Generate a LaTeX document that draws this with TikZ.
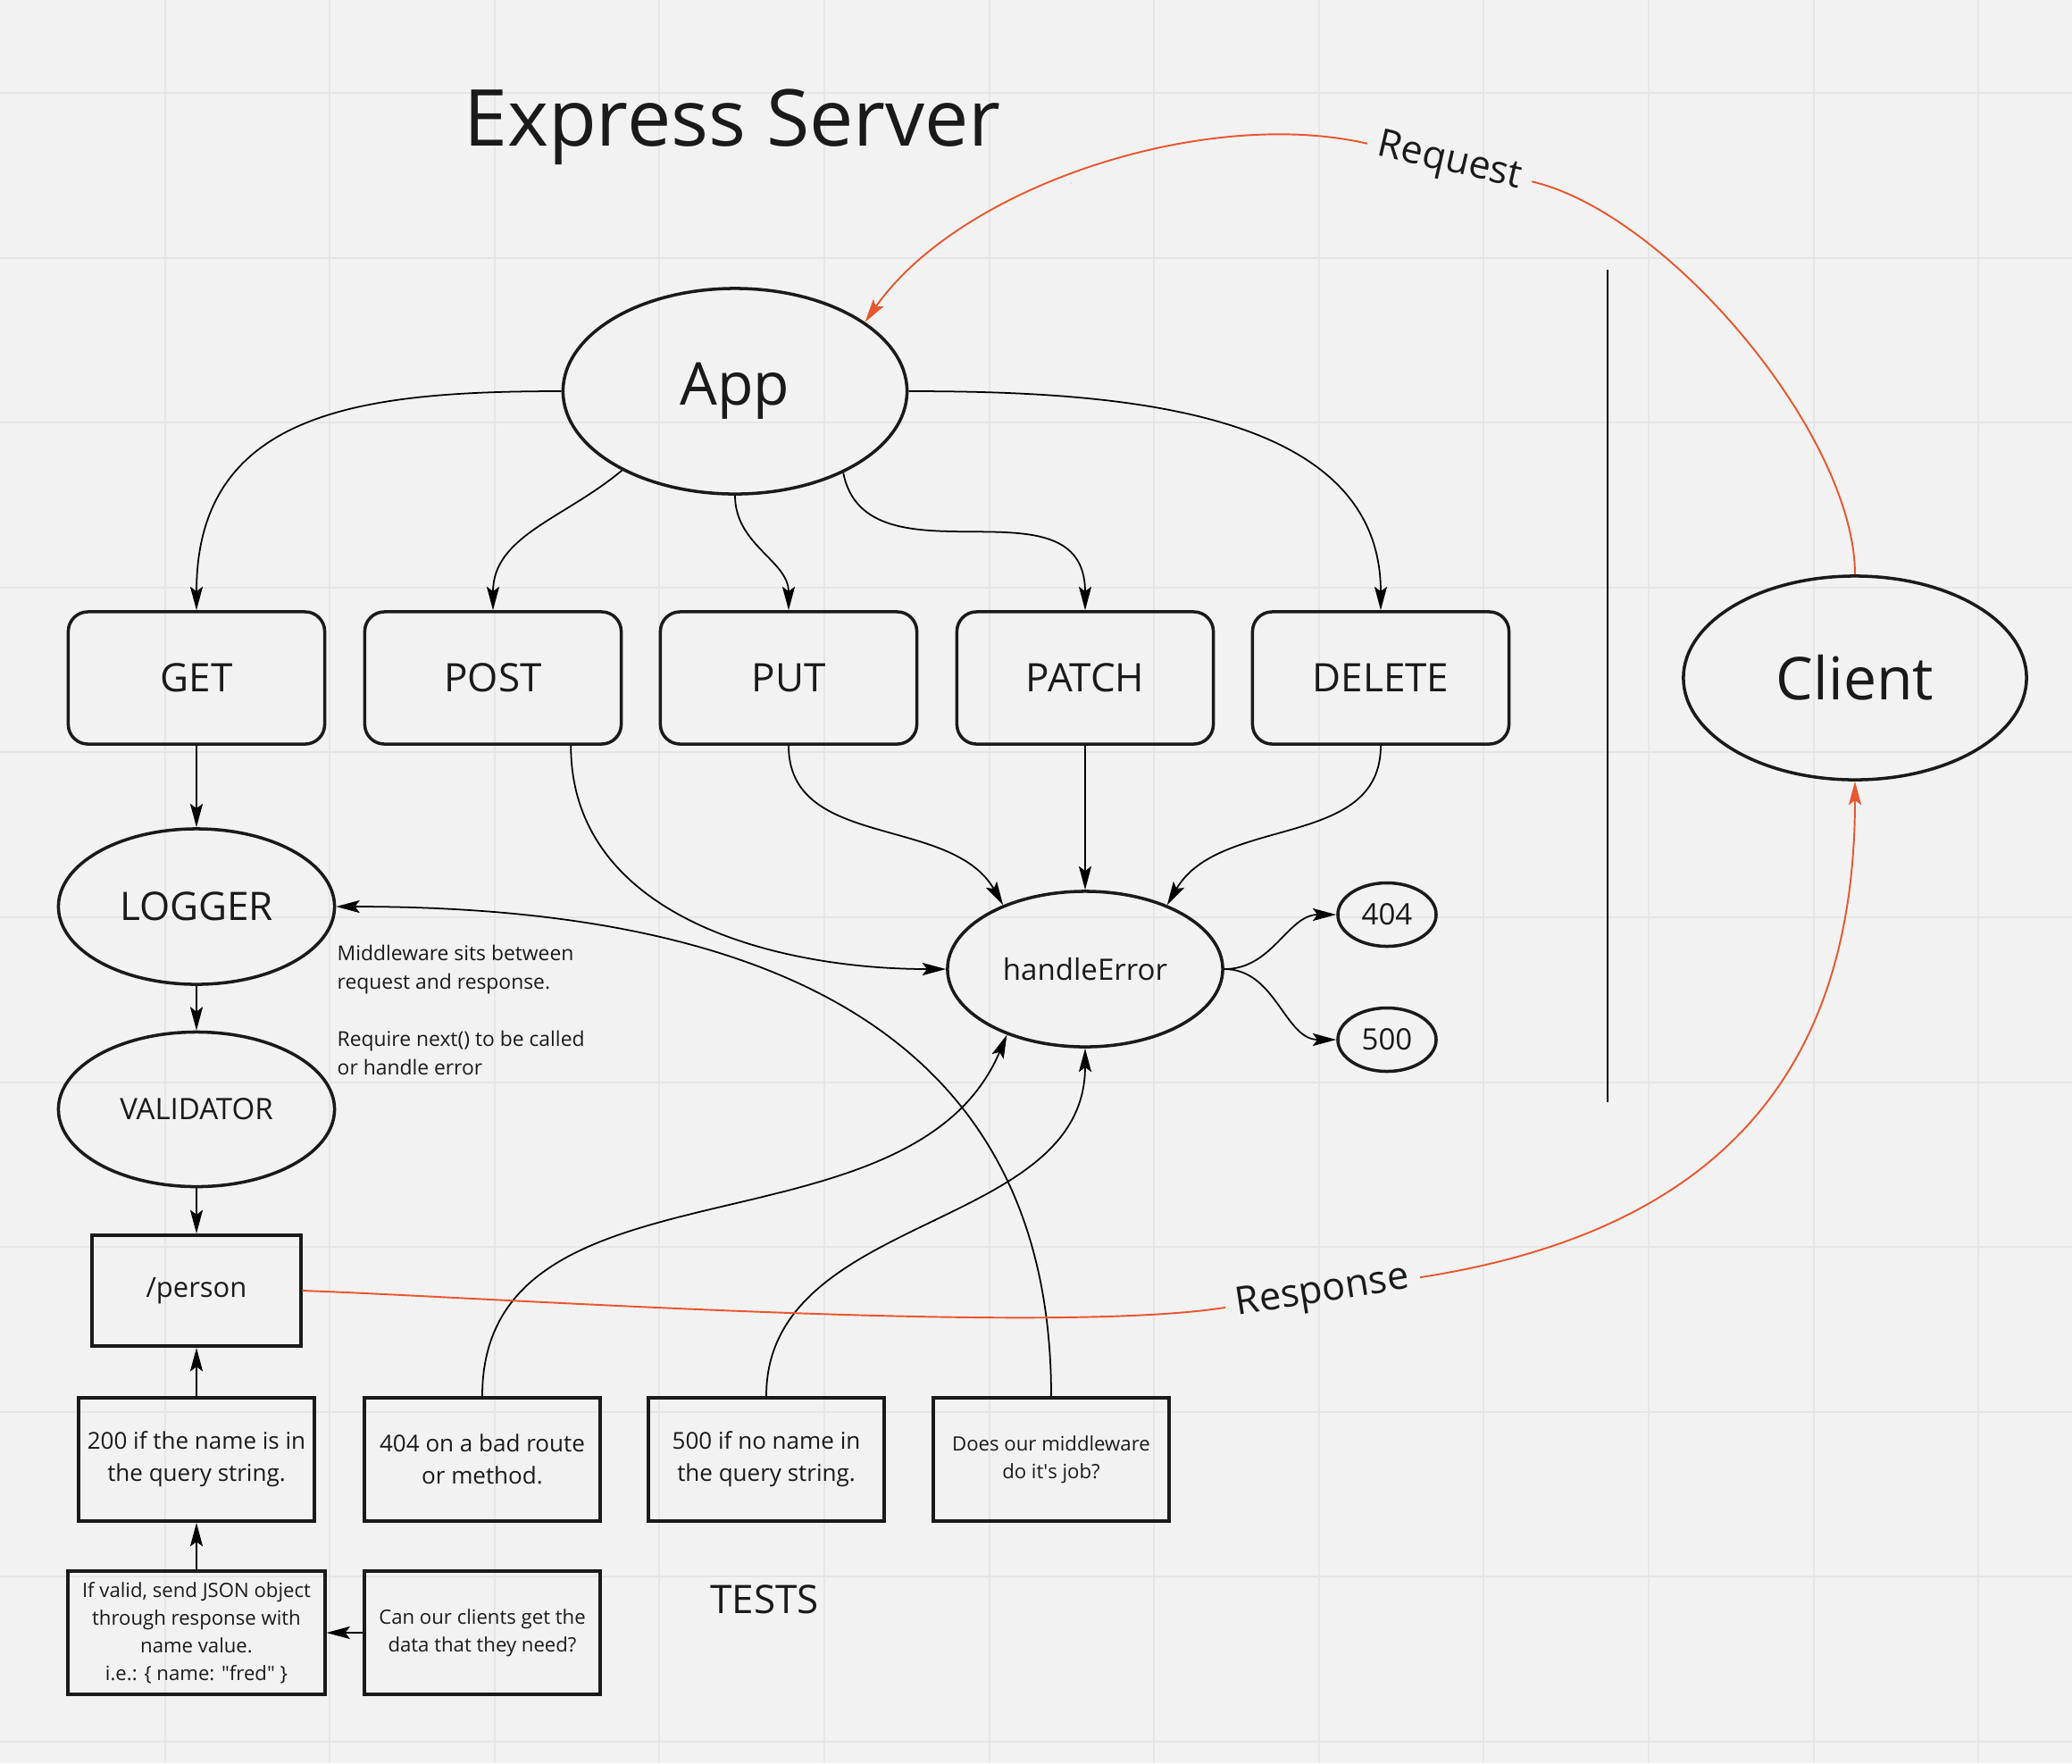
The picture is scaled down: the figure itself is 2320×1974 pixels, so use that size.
\documentclass[tikz,border=0pt]{standalone}
\usepackage{fontspec}
\setmainfont{Open Sans}
\usetikzlibrary{shapes.geometric,arrows.meta}

\definecolor{bg}{HTML}{F2F2F2}
\definecolor{gridline}{HTML}{E6E6E6}
\definecolor{ink}{HTML}{1A1A1A}
\definecolor{reqred}{HTML}{E8572F}
\newcommand{\fsz}[2]{\fontsize{#1}{#2}\selectfont}

\begin{document}
\begin{tikzpicture}[x=0.01cm,y=-0.01cm,every node/.style={text=ink},
  >={Stealth[length=7.5pt,width=4pt,inset=1.5pt]}]
\tikzstyle{route}=[draw=ink,line width=1pt,rounded corners=0.22cm,minimum width=2.87cm,minimum height=1.48cm,inner sep=0pt,font=\fsz{12.5}{17.5}];
\tikzstyle{oval}=[ellipse,draw=ink,line width=1pt,inner sep=0pt];
\tikzstyle{test}=[draw=ink,line width=1.1pt,minimum width=2.64cm,minimum height=1.38cm,inner sep=0pt,align=center];
\tikzstyle{flow}=[->,line width=0.5pt,black];
\tikzstyle{http}=[line width=0.55pt,reqred];

% background and grid
\fill[bg,use as bounding box] (0,0) rectangle (2320,1974);
\foreach \k in {1,...,12} \draw[gridline,line width=0.6pt] (184.6*\k,0) -- (184.6*\k,1974);
\foreach \k in {0,...,10} \draw[gridline,line width=0.6pt] (0,104+184.6*\k) -- (2320,104+184.6*\k);

\node[font=\fsz{25}{30},anchor=base] (title) at (820,163) {Express Server};

\node[oval,minimum width=3.85cm,minimum height=2.3cm,font=\fsz{18.8}{22}] (app) at (823,438) {App};
\node[oval,minimum width=3.84cm,minimum height=2.28cm,font=\fsz{18.8}{22}] (client) at (2077,759) {Client};
\draw[line width=0.6pt,black] (1800,302) -- (1800,1234);

\node[route] (get) at (220,759) {GET};
\node[route] (post) at (552,759) {POST};
\node[route] (put) at (883,759) {PUT};
\node[route] (patch) at (1215,759) {PATCH};
\node[route] (delete) at (1546,759) {DELETE};

\node[oval,minimum width=3.09cm,minimum height=1.74cm,font=\fsz{12.5}{17.5}] (logger) at (220,1015) {LOGGER};
\node[oval,minimum width=3.09cm,minimum height=1.73cm,font=\fsz{9.4}{13}] (validator) at (220,1242) {VALIDATOR};
\node[draw=ink,line width=1.1pt,minimum width=2.33cm,minimum height=1.24cm,font=\fsz{8.8}{12.3}] (person) at (220,1445) {/person};

\node[anchor=north west,align=left,inner sep=0pt,font=\fsz{6.5}{9.1}] (note) at (377,1057)
  {Middleware sits between\\request and response.\\[9.1pt]Require next() to be called\\or handle error};

\node[oval,minimum width=3.08cm,minimum height=1.74cm,font=\fsz{9.4}{13}] (he) at (1215,1085) {handleError};
\node[oval,minimum width=1.1cm,minimum height=0.71cm,font=\fsz{9.4}{13}] (n404) at (1553,1024) {404};
\node[oval,minimum width=1.1cm,minimum height=0.71cm,font=\fsz{9.4}{13}] (n500) at (1553,1164) {500};

\node[test,font=\fsz{7.4}{10.2}] (t200) at (220,1634) {200 if the name is in\\the query string.};
\node[test,font=\fsz{7.4}{10.2}] (t404) at (540,1634) {404 on a bad route\\or method.};
\node[test,font=\fsz{7.4}{10.2}] (t500) at (858,1634) {500 if no name in\\the query string.};
\node[test,font=\fsz{6.3}{8.9}] (tmid) at (1177,1634) {Does our middleware\\do it\textquotesingle s job?};
\node[test,minimum width=2.87cm,font=\fsz{6.3}{8.8}] (valid) at (220,1828)
  {If valid, send JSON object\\through response with\\name value.\\i.e.: \{ name: \textquotedbl fred\textquotedbl\ \}};
\node[test,font=\fsz{6.3}{8.9}] (clients) at (540,1828) {Can our clients get the\\data that they need?};
\node[font=\fsz{12.5}{17.5},anchor=base] (tests) at (856,1806) {TESTS};

\node[rotate=-13,font=\fsz{12.3}{15}] (req) at (1623,182) {Request};
\node[rotate=8.8,font=\fsz{12.3}{15}] (resp) at (1481,1447) {Response};

% app to routes
\draw[flow] (app.west) to[out=180,in=90,looseness=1.2] (get.north);
\draw[flow] (app.-145) to[out=-140,in=90] (post.north);
\draw[flow] (app.south) to[out=-90,in=90] (put.north);
\draw[flow] (app.-37) .. controls (970,660) and (1215,530) .. (patch.north);
\draw[flow] (app.east) to[out=0,in=90] (delete.north);

% routes to error handler
\draw[flow] (post.-41) to[out=-90,in=180] (he.west);
\draw[flow] (put.south) to[out=-90,in=120] (he.142);
\draw[flow] (patch.south) -- (he.north);
\draw[flow] (delete.south) to[out=-90,in=60] (he.38);
\draw[flow] (he.east) to[out=0,in=180] (n404.west);
\draw[flow] (he.east) to[out=0,in=180] (n500.west);

% middleware chain
\draw[flow] (get.south) -- (logger.north);
\draw[flow] (logger.south) -- (validator.north);
\draw[flow] (validator.south) -- (person.north);

% tests
\draw[flow] (t200.north) -- (person.south);
\draw[flow] (valid.north) -- (t200.south);
\draw[flow] (clients.west) -- (valid.east);
\draw[flow] (t404.north) to[out=90,in=-113] (he.-140);
\draw[flow] (t500.north) to[out=90,in=-90] (he.south);
\draw[flow] (tmid.north) to[out=90,in=0,looseness=1.15] (logger.east);

% request / response
\draw[http] (client.north) to[out=90,in=-13,looseness=0.7] (req.east);
\draw[flow,reqred,line width=0.55pt] (req.west) to[out=167,in=55,looseness=0.8] (app.28);
\draw[http] (person.east) to[out=-2,in=189,looseness=0.5] (resp.west);
\draw[flow,reqred,line width=0.55pt] (resp.east) to[out=8.8,in=-90,looseness=1.15] (client.south);
\end{tikzpicture}
\end{document}
